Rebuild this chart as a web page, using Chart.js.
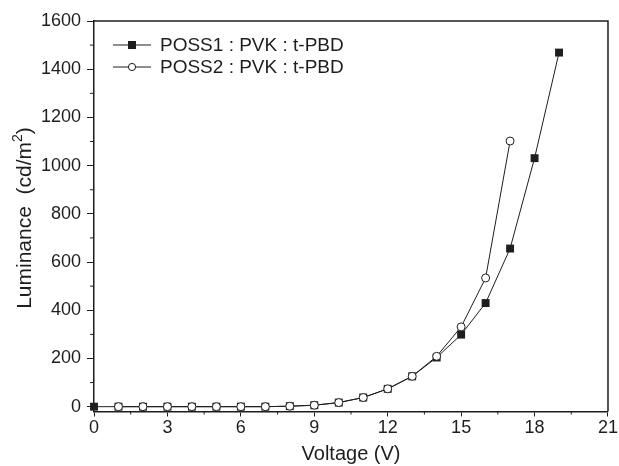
<!DOCTYPE html>
<html>
<head>
<meta charset="utf-8">
<script src="https://cdn.jsdelivr.net/npm/chart.js@4.4.1/dist/chart.umd.min.js"></script>
<style>
  html, body { margin: 0; padding: 0; background: #fff; }
  #wrap { width: 619px; height: 466px; }
</style>
</head>
<body>
<div id="wrap"><canvas id="lum-chart"></canvas></div>
<script>
// ---- data ----
const voltage1 = [0, 1, 2, 3, 4, 5, 6, 7, 8, 9, 10, 11, 12, 13, 14, 15, 16, 17, 18, 19];
const poss1 = [0, 0, 0, 0, 0, 0, 0, 0, 2, 6, 17, 38, 74, 126, 204, 299, 430, 656, 1031, 1469];
const voltage2 = [1, 2, 3, 4, 5, 6, 7, 8, 9, 10, 11, 12, 13, 14, 15, 16, 17];
const poss2 = [0, 0, 0, 0, 0, 0, 0, 2, 6, 17, 38, 74, 126, 209, 331, 534, 1102];
const seriesNames = ["POSS1 : PVK : t-PBD", "POSS2 : PVK : t-PBD"];

const xTicks = [0, 3, 6, 9, 12, 15, 18, 21];
const xMinor = [1.5, 4.5, 7.5, 10.5, 13.5, 16.5, 19.5];
const yTicks = [0, 200, 400, 600, 800, 1000, 1200, 1400, 1600];
const yMinor = [100, 300, 500, 700, 900, 1100, 1300, 1500];

const ink = "#1e1e1e";
const font = "'Liberation Sans', Arial, sans-serif";

function toPoints(xs, ys) {
  return xs.map((v, i) => ({ x: v, y: ys[i] }));
}

// frame, minor ticks, y title and legend
const decor = {
  id: "decor",
  beforeDatasetsDraw(chart) {
    const { ctx, chartArea: a, scales: { x, y } } = chart;
    ctx.save();
    ctx.strokeStyle = ink;
    ctx.lineWidth = 1.5;
    ctx.beginPath();
    ctx.moveTo(a.left, a.top);
    ctx.lineTo(a.right, a.top);
    ctx.lineTo(a.right, a.bottom);
    ctx.stroke();

    ctx.lineWidth = 1;
    ctx.beginPath();
    xMinor.forEach(v => {
      const px = x.getPixelForValue(v);
      ctx.moveTo(px, a.bottom);
      ctx.lineTo(px, a.bottom + 3);
    });
    yMinor.forEach(v => {
      const py = y.getPixelForValue(v);
      ctx.moveTo(a.left, py);
      ctx.lineTo(a.left - 4, py);
    });
    ctx.stroke();
    ctx.restore();
  },
  afterDraw(chart) {
    const { ctx } = chart;
    // y title with a real superscript
    ctx.save();
    ctx.fillStyle = ink;
    ctx.textBaseline = "alphabetic";
    ctx.textAlign = "left";
    ctx.translate(31, 218);
    ctx.rotate(-Math.PI / 2);
    const main = "Luminance  (cd/m";
    const tail = ")";
    ctx.font = "21px " + font;
    const wMain = ctx.measureText(main).width;
    const wTail = ctx.measureText(tail).width;
    ctx.font = "14px " + font;
    const wSup = ctx.measureText("2").width;
    let cx = -(wMain + wSup + wTail) / 2;
    ctx.font = "21px " + font;
    ctx.fillText(main, cx, 0);
    cx += wMain;
    ctx.font = "14px " + font;
    ctx.fillText("2", cx, -9);
    cx += wSup;
    ctx.font = "21px " + font;
    ctx.fillText(tail, cx, 0);
    ctx.restore();

    // legend
    const rows = [45, 67];
    ctx.save();
    ctx.strokeStyle = ink;
    ctx.fillStyle = ink;
    ctx.lineWidth = 1;
    rows.forEach((ry, i) => {
      ctx.beginPath();
      ctx.moveTo(113, ry);
      ctx.lineTo(151, ry);
      ctx.stroke();
      if (i === 0) {
        ctx.fillRect(128, ry - 4, 8, 8);
      } else {
        ctx.beginPath();
        ctx.arc(132, ry, 3.6, 0, Math.PI * 2);
        ctx.fillStyle = "#fff";
        ctx.fill();
        ctx.stroke();
        ctx.fillStyle = ink;
      }
      ctx.font = "19px " + font;
      ctx.textAlign = "left";
      ctx.textBaseline = "middle";
      ctx.fillText(seriesNames[i], 160, ry + 1);
    });
    ctx.restore();
  }
};

new Chart(document.getElementById("lum-chart"), {
  type: "line",
  data: {
    datasets: [
      {
        label: seriesNames[0],
        data: toPoints(voltage1, poss1),
        borderColor: ink,
        borderWidth: 1,
        backgroundColor: ink,
        pointStyle: "rect",
        pointRadius: 5.6,
        pointBorderWidth: 0,
        pointBackgroundColor: ink,
        order: 1,
        clip: false
      },
      {
        label: seriesNames[1],
        data: toPoints(voltage2, poss2),
        borderColor: ink,
        borderWidth: 1,
        pointStyle: "circle",
        pointRadius: 4,
        pointBorderWidth: 1,
        pointBorderColor: ink,
        pointBackgroundColor: "#fff",
        order: 0,
        clip: false
      }
    ]
  },
  options: {
    responsive: true,
    maintainAspectRatio: false,
    animation: false,
    layout: { padding: { top: 21, right: 10, left: 0, bottom: 0 } },
    plugins: {
      legend: { display: false },
      tooltip: { enabled: false }
    },
    scales: {
      x: {
        type: "linear",
        min: 0,
        max: 21,
        afterBuildTicks: s => { s.ticks = xTicks.map(v => ({ value: v })); },
        afterFit: s => { s.height = 54.5; },
        border: { color: ink, width: 1.5 },
        grid: { drawOnChartArea: false, drawTicks: true, tickLength: 5, tickColor: ink, tickWidth: 1 },
        ticks: { color: ink, font: { family: font, size: 18 }, padding: 1, maxRotation: 0, callback: v => String(v) },
        title: { display: true, text: "Voltage (V)", color: ink, font: { family: font, size: 20 }, padding: { top: 0, bottom: 0 } }
      },
      y: {
        type: "linear",
        min: -20,
        max: 1600,
        afterBuildTicks: s => { s.ticks = yTicks.map(v => ({ value: v })); },
        afterFit: s => { s.width = 94; },
        border: { color: ink, width: 1.5 },
        grid: { drawOnChartArea: false, drawTicks: true, tickLength: 7, tickColor: ink, tickWidth: 1 },
        ticks: { color: ink, font: { family: font, size: 18 }, padding: 6, callback: v => String(v) }
      }
    }
  },
  plugins: [decor]
});
</script>
</body>
</html>
